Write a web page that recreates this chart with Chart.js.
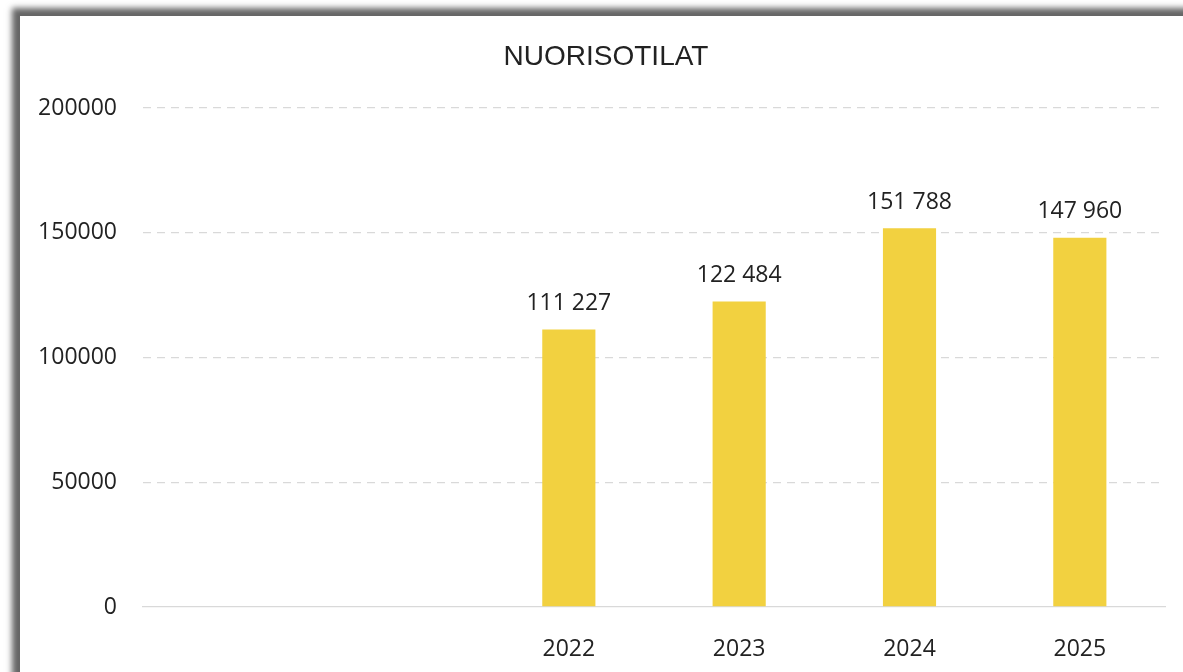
<!DOCTYPE html>
<html>
<head>
<meta charset="utf-8">
<script src="https://cdn.jsdelivr.net/npm/chart.js@4.4.1/dist/chart.umd.min.js"></script>
<style>
    html, body { margin: 0; padding: 0; background: #fff; overflow: hidden; width: 1183px; height: 672px; }
    #frame {
        position: absolute; left: 20px; top: 16px; width: 1200px; height: 680px;
        background: #fff;
        box-shadow: 0 0 6px 8px #666;
    }
    #wrap { position: absolute; left: 0; top: 0; width: 1200px; height: 656px; }
</style>
</head>
<body>
<div id="frame"><div id="wrap"><canvas id="chart"></canvas></div></div>
<script>
const titleText = "NUORISOTILAT"
const years = ["", "", "2022", "2023", "2024", "2025"]
const visits = [null, null, 111227, 122484, 151788, 147960]
const yTicks = [0, 50000, 100000, 150000, 200000]

const barColor = "#F2D140"
const textColor = "#222222"
const gridColor = "#d9d9d9"

// title sits a bit left of the plot centre, so draw it here
const chartTitle = {
    id: "chartTitle",
    afterDraw(chart) {
        const ctx = chart.ctx
        ctx.save()
        ctx.font = "28px 'Liberation Sans', Arial"
        ctx.fillStyle = textColor
        ctx.textAlign = "center"
        ctx.textBaseline = "middle"
        ctx.fillText(titleText, 586, 41)
        ctx.restore()
    }
}

// labels above bars, "111 227" style
const valueLabels = {
    id: "valueLabels",
    afterDatasetsDraw(chart) {
        const ctx = chart.ctx
        const meta = chart.getDatasetMeta(0)
        ctx.save()
        ctx.font = "23px 'Open Sans'"
        ctx.fillStyle = textColor
        ctx.textAlign = "center"
        ctx.textBaseline = "middle"
        meta.data.forEach((bar, i) => {
            const v = visits[i]
            if (v == null) return
            const txt = String(v).replace(/\B(?=(\d{3})+(?!\d))/g, " ")
            ctx.fillText(txt, bar.x, bar.y - 26)
        })
        ctx.restore()
    }
}

new Chart(document.getElementById("chart"), {
    type: "bar",
    data: {
        labels: years,
        datasets: [{
            data: visits,
            backgroundColor: barColor,
            borderWidth: 0,
            barPercentage: 0.312,
            categoryPercentage: 1
        }]
    },
    options: {
        responsive: true,
        maintainAspectRatio: false,
        animation: false,
        layout: { padding: { left: 0, right: 55, top: 92, bottom: 0 } },
        plugins: {
            legend: { display: false },
            tooltip: { enabled: false },
            title: { display: false }
        },
        scales: {
            x: {
                grid: { display: false },
                border: { display: true, color: gridColor, width: 1.3 },
                ticks: {
                    color: textColor,
                    font: { family: "'Open Sans'", size: 23 },
                    padding: 21,
                    maxRotation: 0
                },
                afterFit(scale) { scale.height = 65 }
            },
            y: {
                min: 0,
                max: 200000,
                afterBuildTicks(scale) { scale.ticks = yTicks.map(v => ({ value: v })) },
                grid: {
                    drawTicks: false,
                    lineWidth: 1.3,
                    color: c => c.tick && c.tick.value === 0 ? "rgba(0,0,0,0)" : gridColor
                },
                border: { display: false, dash: [8, 6] },
                ticks: {
                    color: textColor,
                    font: { family: "'Open Sans'", size: 23 },
                    padding: 26,
                    callback: v => String(v)
                },
                afterFit(scale) { scale.width = 123 }
            }
        }
    },
    plugins: [valueLabels, chartTitle]
})
</script>
</body>
</html>
